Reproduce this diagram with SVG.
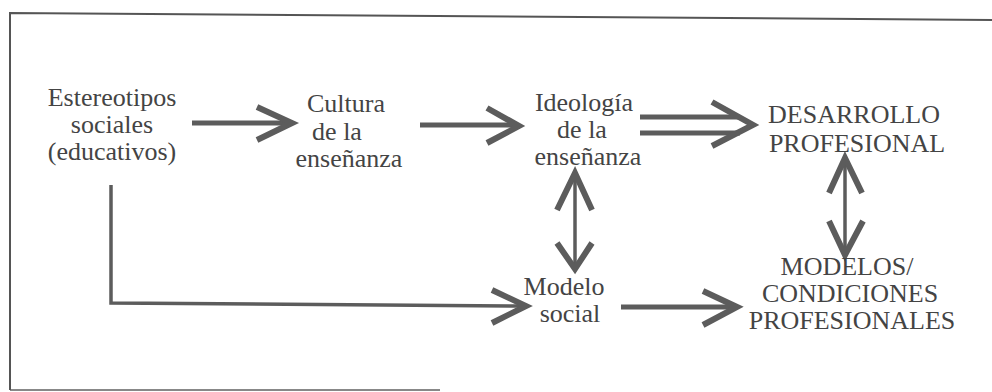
<svg xmlns="http://www.w3.org/2000/svg" width="992" height="392" viewBox="0 0 992 392">
<style>
  .t { font-family: "Liberation Serif", "Times New Roman", serif; font-size: 26px; fill: #444; text-anchor: middle; }
  .frame { fill: none; stroke: #555; stroke-width: 2; }
  .shaft { fill: none; stroke: #5c5c5c; stroke-width: 5; }
  .thin { fill: none; stroke: #5c5c5c; stroke-width: 3.5; }
  .head { fill: none; stroke: #5c5c5c; stroke-width: 6; stroke-linejoin: miter; stroke-miterlimit: 10; }
</style>
<rect x="0" y="0" width="992" height="392" fill="#fff"/>
<g id="frame">
  <path class="frame" d="M10,390 L10,13 L992,20"/>
  <line class="frame" x1="10" y1="390" x2="440" y2="390" stroke-opacity="0.7"/>
</g>
<g id="connectors">
  <!-- Estereotipos -> Cultura -->
  <line class="shaft" x1="192" y1="123" x2="289" y2="123"/>
  <polyline class="head" points="257,107 292,123 257,140"/>
  <!-- Cultura -> Ideologia -->
  <line class="shaft" x1="420" y1="125" x2="516" y2="125"/>
  <polyline class="head" points="487,108 519,126 487,143"/>
  <!-- Ideologia => Desarrollo -->
  <line class="shaft" x1="640" y1="117" x2="740" y2="117"/>
  <line class="shaft" x1="640" y1="133" x2="740" y2="133"/>
  <polyline class="head" points="712,102 753,125 712,146"/>
  <!-- Ideologia <-> Modelo social -->
  <line class="thin" x1="575" y1="176" x2="575" y2="266"/>
  <polyline class="head" points="557,210 575,173 592,210"/>
  <polyline class="head" points="557,243 575,269 592,243"/>
  <!-- Desarrollo <-> Modelos -->
  <line class="thin" x1="845" y1="160" x2="845" y2="252"/>
  <polyline class="head" points="829,193 845,158 862,193"/>
  <polyline class="head" points="829,221 845,255 863,221"/>
  <!-- Estereotipos -> Modelo social (L) -->
  <polyline class="thin" stroke-width="4" points="111,185 111,303 524,306"/>
  <polyline class="head" points="492,290 526,306 492,323"/>
  <!-- Modelo social -> Modelos -->
  <line class="shaft" x1="621" y1="307" x2="734" y2="307"/>
  <polyline class="head" points="703,291 737,307 703,325"/>
</g>
<g id="estereotipos">
  <text class="t" x="112" y="106">Estereotipos</text>
  <text class="t" x="112" y="133">sociales</text>
  <text class="t" x="112" y="160">(educativos)</text>
</g>
<g id="cultura">
  <text class="t" x="346" y="112">Cultura</text>
  <text class="t" x="337" y="140">de la</text>
  <text class="t" x="349" y="167">enseñanza</text>
</g>
<g id="ideologia">
  <text class="t" x="584" y="111">Ideología</text>
  <text class="t" x="582" y="138">de la</text>
  <text class="t" x="588" y="165">enseñanza</text>
</g>
<g id="desarrollo">
  <text class="t" x="854" y="123">DESARROLLO</text>
  <text class="t" x="857" y="152">PROFESIONAL</text>
</g>
<g id="modelos">
  <text class="t" x="847" y="275">MODELOS/</text>
  <text class="t" x="850" y="302">CONDICIONES</text>
  <text class="t" x="852" y="329">PROFESIONALES</text>
</g>
<g id="modelo-social">
  <text class="t" x="564" y="295">Modelo</text>
  <text class="t" x="570" y="322">social</text>
</g>
</svg>
